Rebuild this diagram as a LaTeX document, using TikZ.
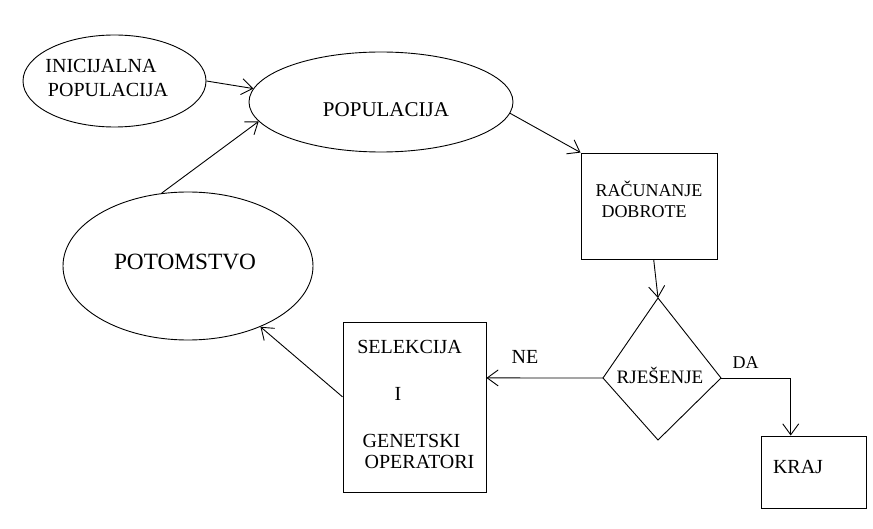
\documentclass[tikz,border=0pt]{standalone}
\usepackage{fontspec}
\setmainfont{Liberation Serif}
\usetikzlibrary{shapes.geometric,arrows.meta}
\begin{document}
\begin{tikzpicture}[x=1pt,y=-1pt,
  every path/.style={line width=0.9pt},
  oval/.style={draw,ellipse,inner sep=0pt},
  boxnode/.style={draw,rectangle,inner sep=0pt},
  lbl/.style={inner sep=0pt,anchor=base,font=\fontsize{20}{22}\selectfont},
  lblsmall/.style={lbl,font=\fontsize{18}{20}\selectfont},
  lblmid/.style={lbl,font=\fontsize{19}{21}\selectfont},
  lblpop/.style={lbl,font=\fontsize{21}{23}\selectfont},
  lblbig/.style={lbl,font=\fontsize{23.3}{25}\selectfont},
  arr/.style={-{Straight Barb[length=11pt,width=16pt]}}]
\useasboundingbox (0,0) rectangle (873,529);

% shapes
\node[oval,minimum width=183pt,minimum height=92pt] (ini) at (114.5,81) {};
\node[oval,minimum width=264pt,minimum height=100pt] (pop) at (381,102) {};
\node[oval,minimum width=250pt,minimum height=148pt] (pot) at (188,266) {};
\node[boxnode,minimum width=136pt,minimum height=106pt] (rac) at (649,206) {};
\node[boxnode,minimum width=143pt,minimum height=170pt] (sel) at (414.5,407) {};
\node[boxnode,minimum width=105pt,minimum height=72pt] (kraj) at (813.5,472) {};
\coordinate (dT) at (658,298);
\coordinate (dR) at (721,378);
\coordinate (dB) at (658,440);
\coordinate (dL) at (603,378);
\draw (dT) -- (dR) -- (dB) -- (dL) -- cycle;

% texts
\node[lbl] (t1) at (101,73) {INICIJALNA};
\node[lbl] (t2) at (108,97) {POPULACIJA};
\node[lblpop] (t3) at (386,117) {POPULACIJA};
\node[lblbig] (t4) at (185,270) {POTOMSTVO};
\node[lblsmall] (t5) at (649,197) {RAČUNANJE};
\node[lblsmall] (t6) at (644,218) {DOBROTE};
\node[lbl] (t7) at (409.5,354) {SELEKCIJA};
\node[lbl] (t8) at (398,400) {I};
\node[lbl] (t9) at (411.5,447) {GENETSKI};
\node[lbl] (t10) at (419.5,468) {OPERATORI};
\node[lbl] (t11) at (525,363) {NE};
\node[lblmid] (t12) at (660,384) {RJEŠENJE};
\node[lblsmall] (t13) at (745.5,368) {DA};
\node[lbl] (t14) at (798,473) {KRAJ};

% connectors
\draw[arr] (ini.0) -- (pop.174.7);
\draw[arr] (pot.110.3) -- (pop.189.4);
\draw[arr] (pop.-5.3) -- (rac.north west);
\draw[arr] (rac.-85.7) -- (dT);
\draw[arr] (dL) -- (sel.22.1);
\draw[arr] (sel.172) -- (pot.-40.5);
\draw[arr] (dR) -| (kraj.122);
\end{tikzpicture}
\end{document}
